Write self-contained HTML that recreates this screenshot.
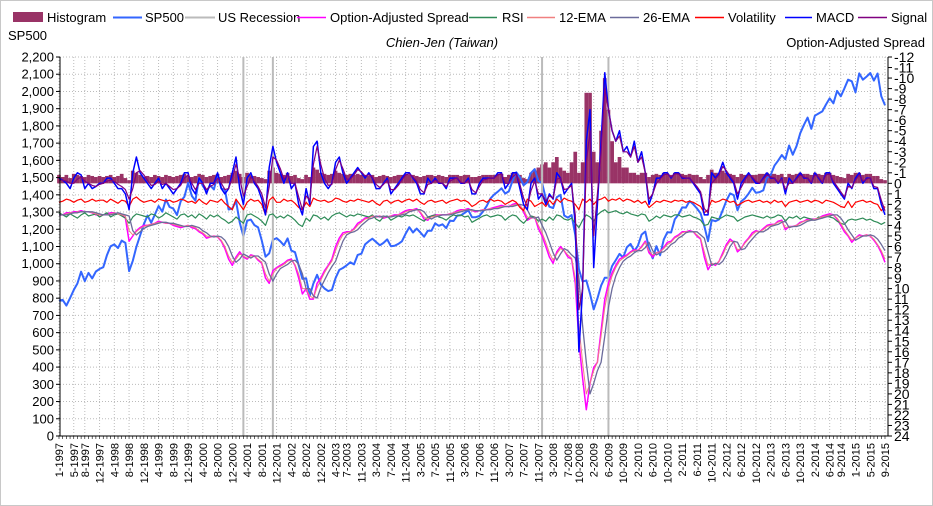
<!DOCTYPE html>
<html><head><meta charset="utf-8"><style>
body{margin:0;background:#fff;}
svg{display:block;font-family:"Liberation Sans",Arial,sans-serif;}
</style></head><body>
<svg id="c" width="933" height="506" viewBox="0 0 933 506">
<rect x="0.5" y="0.5" width="932" height="505" fill="#fff" stroke="#c8c8c8"/>
<g id="legend" font-size="13" fill="#000">
<g><rect x="13" y="12" width="30" height="10" fill="#993366"/><text x="47" y="22">Histogram</text></g>
<g><line x1="113" y1="17.5" x2="142" y2="17.5" stroke="#3366ff" stroke-width="2"/><text x="145" y="22">SP500</text></g>
<g><line x1="185" y1="17.5" x2="215" y2="17.5" stroke="#bbb" stroke-width="2"/><text x="218" y="22">US Recession</text></g>
<g><line x1="297" y1="17.5" x2="326" y2="17.5" stroke="#ff00ff" stroke-width="1.5"/><text x="330" y="22">Option-Adjusted Spread</text></g>
<g><line x1="469" y1="17.5" x2="497" y2="17.5" stroke="#2e8b57" stroke-width="1.5"/><text x="502" y="22">RSI</text></g>
<g><line x1="527" y1="17.5" x2="555" y2="17.5" stroke="#f08080" stroke-width="1.5"/><text x="559" y="22">12-EMA</text></g>
<g><line x1="610" y1="17.5" x2="639" y2="17.5" stroke="#6b6b9b" stroke-width="1.5"/><text x="643" y="22">26-EMA</text></g>
<g><line x1="695" y1="17.5" x2="724" y2="17.5" stroke="#ff0000" stroke-width="1.5"/><text x="728" y="22">Volatility</text></g>
<g><line x1="785" y1="17.5" x2="812" y2="17.5" stroke="#0000ff" stroke-width="1.5"/><text x="816" y="22">MACD</text></g>
<g><line x1="858" y1="17.5" x2="887" y2="17.5" stroke="#800080" stroke-width="1.5"/><text x="891" y="22">Signal</text></g>
</g>
<text x="8" y="40" font-size="13">SP500</text>
<text x="442" y="47" font-size="13" font-style="italic" text-anchor="middle">Chien-Jen (Taiwan)</text>
<text x="925" y="47" font-size="13" text-anchor="end">Option-Adjusted Spread</text>
<g id="grid"></g><g id="marks"></g><g id="axes"></g>
</svg>
<script>
const xLabels=["1-1997","5-1997","8-1997","12-1997","4-1998","8-1998","12-1998","4-1999","8-1999","12-1999","4-2000","8-2000","12-2000","4-2001","8-2001","12-2001","4-2002","8-2002","12-2002","4-2003","7-2003","11-2003","3-2004","7-2004","11-2004","3-2005","7-2005","11-2005","3-2006","7-2006","11-2006","3-2007","7-2007","11-2007","3-2008","7-2008","10-2008","2-2009","6-2009","10-2009","2-2010","6-2010","10-2010","2-2011","6-2011","10-2011","2-2012","6-2012","10-2012","2-2013","6-2013","10-2013","2-2014","6-2014","9-2014","1-2015","5-2015","9-2015"];
const recessions=[["3-2001","11-2001"],["12-2007","6-2009"]];
const sp500=[786,790,757,801,848,885,954,899,947,915,955,970,
980,1049,1101,1112,1091,1134,1121,957,1017,1098,1164,1229,
1280,1238,1286,1335,1302,1373,1329,1320,1283,1363,1389,1469,
1394,1366,1499,1452,1421,1455,1431,1518,1437,1429,1315,1320,
1366,1240,1160,1249,1256,1224,1211,1134,1041,1060,1139,1148,
1130,1107,1147,1076,1067,990,912,916,815,885,936,880,
856,841,848,917,964,975,990,1008,996,1051,1058,1112,
1131,1145,1126,1107,1121,1141,1102,1104,1115,1130,1174,1212,
1181,1204,1181,1157,1192,1191,1234,1220,1229,1207,1249,1248,
1280,1281,1295,1311,1270,1270,1277,1304,1336,1378,1401,1418,
1438,1407,1421,1482,1531,1503,1455,1474,1527,1549,1481,1468,
1378,1331,1323,1386,1400,1280,1267,1283,1166,969,896,903,
826,735,798,873,919,919,987,1021,1057,1036,1096,1115,
1074,1104,1169,1187,1089,1031,1102,1049,1141,1183,1181,1258,
1286,1327,1326,1364,1345,1321,1292,1219,1131,1253,1247,1258,
1312,1366,1408,1398,1310,1362,1379,1407,1441,1412,1416,1426,
1498,1515,1569,1598,1631,1606,1686,1633,1682,1757,1806,1848,
1783,1859,1872,1884,1924,1960,1931,2003,1972,2018,2068,2059,
1995,2105,2068,2086,2107,2063,2104,1972,1920];
const spread=[3,3,2.8,2.8,2.7,2.7,2.6,2.7,2.7,2.8,3,3,
3,2.9,2.8,2.8,2.9,3,3.3,5.5,5,4.5,4.2,4,
4,3.9,3.8,3.6,3.7,3.8,3.8,4,4.1,4.2,4.1,4,
4.2,4.3,4.6,4.8,5.2,5.1,5,5.1,5.5,6.2,7.2,7.8,
7,6.5,7,7.2,6.8,6.9,7.3,7.6,9,9.5,8.3,8,
7.8,7.6,7.3,7.2,7.8,9,10.5,10,11,11,9.5,9,
8.3,7.8,7.2,6,5.2,4.7,4.6,4.6,4.3,3.8,3.6,3.3,
3.2,3.1,3.2,3.1,3.3,3.2,3.1,3,3,2.8,2.6,2.5,
2.5,2.4,2.8,3.4,3.5,3.1,3,3,3,3,2.9,2.8,
2.6,2.5,2.5,2.4,2.6,2.7,2.6,2.5,2.5,2.4,2.3,2.2,
2.1,2.2,2.2,2,1.9,2.1,2.7,3.5,3.3,3.2,4.3,5,
6,7,7.6,6.5,6,6.4,7,7.2,9.5,15,18.5,21.5,
19,17.5,17,14,11,9.5,8.5,7.8,7.2,7,6.8,6.5,
6.3,6.4,6,5.5,6.6,7,6.6,6.5,6.1,5.6,5.5,5.1,
4.9,4.6,4.6,4.5,4.6,5,5.3,7,8.2,7.6,7.8,7.4,
6.6,5.8,5.3,5.6,6.5,6.2,5.6,5.2,4.7,4.5,4.6,4.3,
4,3.9,3.9,3.6,3.5,4.4,4.1,4.1,4,3.7,3.6,3.4,
3.4,3.4,3.3,3.1,3,2.9,3,3.4,4,4.6,5,5.6,
5.2,4.9,5,4.9,5,5.4,5.9,6.6,7.5];
const ema12=[3,3,2.9,2.8,2.8,2.7,2.7,2.7,2.7,2.8,2.9,3,
3,3,2.9,2.8,2.9,3,3.1,4.5,4.9,4.6,4.3,4.1,
4,3.9,3.8,3.7,3.7,3.8,3.8,3.9,4,4.1,4.1,4,
4.1,4.2,4.5,4.7,5,5.1,5,5.1,5.4,6,6.9,7.5,
7.2,6.7,6.9,7.1,6.9,6.9,7.2,7.5,8.6,9.3,8.6,8.1,
7.9,7.7,7.4,7.3,7.7,8.6,10,10,10.7,10.9,9.9,9.2,
8.5,7.9,7.4,6.4,5.5,4.9,4.7,4.6,4.4,4,3.7,3.4,
3.3,3.1,3.2,3.1,3.2,3.2,3.1,3.1,3,2.9,2.7,2.6,
2.5,2.5,2.7,3.2,3.4,3.2,3.1,3,3,3,2.9,2.8,
2.7,2.6,2.5,2.5,2.6,2.6,2.6,2.5,2.5,2.4,2.4,2.3,
2.2,2.2,2.2,2.1,2,2.1,2.5,3.2,3.3,3.2,4,4.7,
5.6,6.6,7.3,6.7,6.2,6.4,6.8,7.1,9,13.5,17,20,
19,17.8,17,14.5,11.8,10,8.8,8,7.4,7.1,6.9,6.6,
6.4,6.4,6.1,5.6,6.4,6.8,6.6,6.5,6.2,5.8,5.6,5.2,
5,4.7,4.6,4.6,4.6,4.9,5.2,6.5,7.8,7.6,7.7,7.4,
6.8,6,5.5,5.6,6.3,6.2,5.7,5.3,4.9,4.6,4.6,4.4,
4.1,4,3.9,3.7,3.6,4.2,4.1,4.1,4,3.8,3.6,3.5,
3.5,3.4,3.3,3.2,3.1,3,3,3.3,3.8,4.4,4.9,5.4,
5.2,5,5,4.9,5,5.3,5.8,6.4,7.2];
const ema26=[3,3,3,2.9,2.8,2.8,2.7,2.7,2.7,2.7,2.8,2.9,
3,3,3,2.9,2.8,2.9,3,3.1,4.5,4.9,4.6,4.3,
4.1,4,3.9,3.8,3.7,3.7,3.8,3.8,3.9,4,4.1,4.1,
4,4.1,4.2,4.5,4.7,5,5.1,5,5.1,5.4,6,6.9,
7.5,7.2,6.7,6.9,7.1,6.9,6.9,7.2,7.5,8.6,9.3,8.6,
8.1,7.9,7.7,7.4,7.3,7.7,8.6,10,10,10.7,10.9,9.9,
9.2,8.5,7.9,7.4,6.4,5.5,4.9,4.7,4.6,4.4,4,3.7,
3.4,3.3,3.1,3.2,3.1,3.2,3.2,3.1,3.1,3,2.9,2.7,
2.6,2.5,2.5,2.7,3.2,3.4,3.2,3.1,3,3,3,2.9,
2.8,2.7,2.6,2.5,2.5,2.6,2.6,2.6,2.5,2.5,2.4,2.4,
2.3,2.2,2.2,2.2,2.1,2,2.1,2.5,3.2,3.3,3.2,4,
4.7,5.6,6.6,7.3,6.7,6.2,6.4,6.8,7.1,9,13.5,17,
20,19,17.8,17,14.5,11.8,10,8.8,8,7.4,7.1,6.9,
6.6,6.4,6.4,6.1,5.6,6.4,6.8,6.6,6.5,6.2,5.8,5.6,
5.2,5,4.7,4.6,4.6,4.6,4.9,5.2,6.5,7.8,7.6,7.7,
7.4,6.8,6,5.5,5.6,6.3,6.2,5.7,5.3,4.9,4.6,4.6,
4.4,4.1,4,3.9,3.7,3.6,4.2,4.1,4.1,4,3.8,3.6,
3.5,3.5,3.4,3.3,3.2,3.1,3,3,3.3,3.8,4.4,4.9,
5.4,5.2,5,5,4.9,5,5.3,5.8,6.4];
const rsi=[2.8,3,3.2,2.9,3.1,3.3,3,2.8,3.1,3,2.9,3.2,
3,2.8,3.2,3,2.9,3.1,3.3,3.8,3.2,2.9,3,3.1,
3.2,2.9,3,3.3,3.1,2.8,3,3.2,3.4,3,2.9,3.2,
3,3.3,2.9,3.1,3.4,3,3.2,3,3.3,3.5,3.8,3.6,
3.2,3.5,3.8,3,2.9,3.1,3.3,3.6,4,3,2.9,3.3,
3.1,3.3,3,3.2,3.5,3.9,4.1,3.3,3.6,3,3.1,3.4,
3.2,3.5,3.1,2.9,2.8,3,3.2,3,3.1,2.9,3,3.1,
3.2,3,3.4,3.6,3.2,3.1,3.5,3.3,3.1,3.2,3,3.1,
3,3.2,3.4,3.6,3.2,3.1,3,3.2,3.3,3.5,3.2,3,
3.1,3,3.2,3.1,3.7,3.5,3.3,3.1,3,3.2,3.1,3,
3.1,3.5,3.2,3,3.1,3.5,3.8,3.4,3.1,3.2,3.6,3.4,
3.6,3.2,3.5,3,3.1,3.4,3.5,3.3,3.8,4.2,3.5,3,
3.2,3.6,3,2.7,2.5,2.8,2.7,2.6,2.8,2.9,2.7,2.9,
3,3.1,2.9,3,3.6,3.4,3.1,3.3,3,3.1,3.2,3,
3,3.2,3.1,3,3.2,3.3,3.5,4,3.9,3.2,3.3,3.4,
3.2,3,3.1,3.2,3.6,3.4,3.2,3.1,3,3.1,3.2,3.3,
3.1,3.3,3.2,3,3.1,3.6,3.2,3.3,3.1,3.4,3.2,3.3,
3.4,3.5,3.2,3.3,3.1,3.2,3.3,3.6,3.8,3.9,3.5,3.4,
3.5,3.4,3.3,3.5,3.4,3.6,3.7,3.9,3.7];
const volatility=[1.8,1.7,1.5,1.6,1.8,1.6,1.5,1.8,1.7,1.5,1.7,1.6,
1.6,1.8,1.5,1.7,1.9,1.6,1.7,2.2,1.5,1.3,1.6,1.8,
1.7,1.6,1.8,1.5,1.6,1.7,1.6,1.8,1.7,1.5,1.6,1.8,
1.7,1.9,1.5,1.8,2,1.6,1.7,1.8,1.5,1.9,2.2,2.5,
1.5,2,2.5,1.8,1.5,1.7,1.6,2,3,1.6,1.3,1.8,
1.8,1.5,1.7,1.6,1.9,2.3,2.5,1.8,2.2,1.4,1.6,1.7,
1.6,1.8,1.7,1.4,1.5,1.7,1.8,1.6,1.7,1.5,1.6,1.7,
1.8,1.6,1.9,2.1,1.7,1.6,1.9,1.7,1.6,1.8,1.6,1.5,
1.7,1.5,1.8,2,1.7,1.6,1.8,1.7,1.6,1.9,1.7,1.6,
1.5,1.7,1.6,1.8,2.2,2,1.7,1.6,1.8,1.5,1.7,1.6,
1.7,2,1.8,1.6,1.8,2.3,2.6,1.5,1.7,2.2,2,1.8,
2.2,1.6,2,1.5,1.8,1.4,1.6,1.7,2,2.5,1.5,1.8,
1.5,2,1.6,1.5,1.3,1.7,1.5,1.6,1.4,1.7,1.5,1.6,
1.8,1.6,1.9,1.7,2.3,2,1.7,1.8,1.6,1.7,1.8,1.6,
1.7,1.6,1.8,1.7,1.8,2,2.2,2.8,2.5,1.6,1.8,1.7,
1.5,1.6,1.8,1.7,2.1,1.9,1.7,1.6,1.8,1.7,1.6,1.8,
1.7,1.9,1.6,1.8,1.7,2.2,1.8,1.7,1.6,1.8,1.7,1.6,
1.8,1.6,1.7,1.9,1.6,1.7,1.8,2,2.2,2.3,1.7,2.3,
1.8,1.7,1.6,1.8,1.7,1.9,2,2.6,2.2];
const macd=[-0.5,-0.3,0,0.5,-0.5,-1,-0.8,0.5,0,0.5,0.3,0,
0,-0.5,-0.5,0,0.5,0.5,1,2.5,-1,-2.5,-1,-0.5,
0,0.5,0,-0.5,0.5,0,0.5,1,0.5,0,-1,-1,
0.5,1,-0.5,0,1,0,0,-1,0.5,1,0.5,-1,
-2.5,0.5,2,-0.5,-1,0,0.5,1.5,3,-1.5,-3.5,-2,
-1,0,-1,0.5,0,2,3,0.5,2,-3.5,-4,-1,
0,0.5,0,-2,-2.5,-1,0,-0.5,-1,-1.5,-1,-0.5,
-1,-0.5,0.5,0.5,0,-0.5,1,0.5,0,-0.5,-1,-1,
-0.5,0,1,1,-0.5,0,-0.5,0,0,0.5,-0.5,-0.5,
-0.5,0,0,-0.5,1,1,0,-0.5,-0.5,-0.5,-0.5,-1,
-1,0.5,0,-1,-1,0.5,2,2.5,0,-0.5,1.5,1,
2,1,1.5,-1,-0.5,1,0.5,0,4,16,10,-4,
-7,8,2,-4,-10.5,-7,-5,-4,-5,-3,-3.5,-2.5,
-4,-2,-3,-1,2,1,-0.5,-0.5,-1,-1,-0.5,-1,
-1,-0.5,-0.5,-0.5,0,0.5,1,3,3,-1,-0.5,-1,
-2,-1,-0.5,0,1.5,0,-0.5,-1,-0.5,0,0,-0.5,
-1,-0.5,-0.5,0,-0.5,1,-0.5,0,-0.5,-1,-0.5,-0.5,
0,-1,-0.5,0,-1,-1,0,0.5,1,1.5,0,0.5,
-0.5,-1,0,-0.5,-0.5,0.5,0.5,2,3];
const signal=[-0.3,-0.3,-0.2,0,0,-0.4,-0.6,-0.2,0,0.2,0.3,0.1,
0,-0.2,-0.3,-0.2,0.1,0.3,0.6,1.5,0.5,-1,-1.2,-0.8,
-0.3,0.2,0.1,-0.2,0.1,0,0.3,0.6,0.5,0.2,-0.5,-0.8,
0,0.6,0,0,0.6,0.3,0.1,-0.5,0,0.6,0.5,-0.5,
-1.8,-0.5,1.2,0.3,-0.6,-0.2,0.3,1,2.3,0.3,-2.5,-2.2,
-1.4,-0.4,-0.8,0,0,1.3,2.5,1.2,1.6,-1.8,-3.5,-1.8,
-0.5,0.2,0.1,-1.3,-2.2,-1.4,-0.4,-0.4,-0.8,-1.3,-1.1,-0.7,
-0.8,-0.6,0.1,0.4,0.1,-0.3,0.6,0.6,0.2,-0.3,-0.8,-0.9,
-0.6,-0.2,0.6,0.9,0.1,0,-0.3,-0.1,0,0.3,-0.2,-0.4,
-0.5,-0.1,0,-0.3,0.6,0.9,0.3,-0.3,-0.4,-0.5,-0.5,-0.8,
-0.9,0,0,-0.6,-0.9,0.1,1.4,2.2,0.7,-0.2,1,1,
1.7,1.2,1.4,-0.4,-0.5,0.6,0.5,0.2,3,12,10,-2,
-5,5,1,-3,-9,-7,-5,-4,-4.5,-3,-3,-2.5,
-3.5,-2,-2.5,-1,1.5,1,0,-0.4,-0.8,-0.9,-0.6,-0.9,
-0.9,-0.6,-0.5,-0.5,-0.1,0.3,0.8,2.4,2.8,0,-0.4,-0.8,
-1.6,-1.2,-0.7,-0.2,1,0.4,-0.3,-0.8,-0.6,-0.2,0,-0.4,
-0.8,-0.6,-0.5,-0.1,-0.4,0.6,0,0,-0.4,-0.8,-0.6,-0.5,
-0.1,-0.8,-0.6,-0.1,-0.8,-0.9,-0.2,0.3,0.8,1.3,0.3,0.4,
-0.3,-0.8,-0.2,-0.4,-0.5,0.3,0.4,1.6,2.6];
const histogram=[-0.8,-0.6,-0.8,-0.5,-0.9,-0.8,-0.7,-0.6,-0.8,-0.7,-0.6,-0.7,
-0.6,-0.7,-0.8,-0.6,-0.7,-0.9,-0.5,-0.3,-1.2,-1,-0.8,-0.6,
-0.7,-0.6,-0.8,-0.7,-0.6,-0.8,-0.7,-0.6,-0.7,-0.8,-0.9,-0.7,
-0.6,-0.7,-0.9,-0.8,-0.6,-0.7,-0.8,-0.9,-0.6,-0.7,-0.8,-1,
-1.2,-0.9,-0.6,-1,-0.8,-0.7,-0.6,-0.5,-0.4,-1.2,-1.5,-1,
-0.9,-0.8,-1,-0.7,-0.8,-0.5,-0.4,-0.8,-0.6,-1.5,-1.3,-1,
-0.9,-0.8,-0.9,-1.2,-1,-0.9,-0.8,-0.9,-0.8,-0.9,-0.8,-0.8,
-0.7,-0.8,-0.6,-0.7,-0.8,-0.7,-0.6,-0.7,-0.8,-0.8,-0.9,-0.8,
-0.8,-0.7,-0.6,-0.7,-0.8,-0.8,-0.7,-0.8,-0.7,-0.6,-0.8,-0.8,
-0.8,-0.7,-0.8,-0.8,-0.6,-0.6,-0.7,-0.8,-0.8,-0.8,-0.8,-0.9,
-0.9,-0.6,-0.8,-1,-1,-0.8,-0.5,-0.4,-1,-1.2,-1.5,-1.8,
-2,-1.5,-2,-2.5,-1.5,-1.2,-1,-2,-3,-1,-2,-8.6,
-8.6,-3,-2,-5,-10,-7,-4,-2,-2.5,-1.5,-1.5,-1,
-1,-0.8,-1,-1,-0.6,-0.8,-0.9,-0.8,-1,-0.9,-0.8,-1,
-1,-0.9,-0.8,-0.9,-0.8,-0.8,-0.6,-0.4,-0.8,-1.3,-1,-1,
-1.2,-1,-0.9,-0.8,-0.6,-0.9,-0.8,-0.9,-0.8,-0.8,-0.9,-0.9,
-1,-0.9,-0.9,-0.8,-0.9,-0.6,-0.9,-0.8,-0.9,-1,-0.9,-0.9,
-0.8,-1,-0.9,-0.8,-1,-1,-0.8,-0.7,-0.6,-0.5,-0.9,-0.8,
-1,-1,-0.8,-0.9,-0.9,-0.7,-0.7,-0.4,-0.3];
const leftTicks=[0,100,200,300,400,500,600,700,800,900,1000,1100,1200,1300,1400,1500,1600,1700,1800,1900,2000,2100,2200];
const rightTicks=[-12,-11,-10,-9,-8,-7,-6,-5,-4,-3,-2,-1,0,1,2,3,4,5,6,7,8,9,10,11,12,13,14,15,16,17,18,19,20,21,22,23,24];

const NS="http://www.w3.org/2000/svg";
const X0=59,X1=885,Y0=57,Y1=436,PL=60,PR=888;
function mIdx(s){const p=s.split('-');return (+p[1]-1997)*12+(+p[0]-1);}
function xS(m){return X0+m*(X1-X0)/224;}
function yL(v){return Y1-v*(Y1-Y0)/2200;}
function yR(r){return Y0+(r+12)*(Y1-Y0)/36;}
function mk(tag,attrs,parent){const e=document.createElementNS(NS,tag);for(const k in attrs)e.setAttribute(k,attrs[k]);parent.appendChild(e);return e;}
const grid=document.getElementById('grid'),marks=document.getElementById('marks'),axes=document.getElementById('axes');

leftTicks.forEach(v=>{if(v===0)return;const l=mk('line',{x1:PL,x2:PR,y1:yL(v),y2:yL(v),stroke:'#bbb','stroke-dasharray':'1,2'},grid);

});
xLabels.forEach(s=>{const x=xS(mIdx(s));const l=mk('line',{x1:x,x2:x,y1:Y0,y2:Y1,stroke:'#bbb','stroke-dasharray':'1,2'},grid);

});

histogram.forEach((h,i)=>{const y=yR(h),b=yR(0);const r=mk('rect',{x:xS(i)-1.85,width:3.7,y:Math.min(y,b),height:Math.abs(b-y),fill:'#993366'},marks);

});
function line(arr,yf,color,w,name){const d=arr.map((v,i)=>(i?'L':'M')+xS(i).toFixed(1)+','+yf(v).toFixed(1)).join('');const p=mk('path',{d:d,fill:'none',stroke:color,'stroke-width':w,'stroke-linejoin':'round'},marks);

}
line(sp500,yL,'#3366ff',2,'sp500-line');
recessions.forEach(r=>r.forEach(s=>{const x=xS(mIdx(s));const l=mk('line',{x1:x,x2:x,y1:Y0,y2:Y1,stroke:'#bbb','stroke-width':2},marks);

}));
line(spread,yR,'#ff00ff',1.5,'option-adjusted-spread-line');
line(rsi,yR,'#2e8b57',1.2,'rsi-line');
line(ema12,yR,'#f08080',1,'ema12-line');
line(ema26,yR,'#6b6b9b',1.3,'ema26-line');
line(volatility,yR,'#ff0000',1.2,'volatility-line');
line(macd,yR,'#0000ff',1.5,'macd-line');
line(signal,yR,'#800080',1.2,'signal-line');

let a=mk('line',{x1:PL,x2:PL,y1:Y0,y2:Y1,stroke:'#000'},axes);


a=mk('line',{x1:PR,x2:PR,y1:Y0,y2:Y1,stroke:'#000'},axes);


a=mk('line',{x1:PL,x2:PR,y1:Y1,y2:Y1,stroke:'#000'},axes);


leftTicks.forEach(v=>{const y=yL(v);mk('line',{x1:PL-4,x2:PL,y1:y,y2:y,stroke:'#000'},axes);
const t=mk('text',{x:PL-6,y:y+4.5,'font-size':13,'text-anchor':'end'},axes);t.textContent=v.toLocaleString('en-US');

});
rightTicks.forEach(v=>{const y=yR(v);mk('line',{x1:PR,x2:PR+4,y1:y,y2:y,stroke:'#000'},axes);
const t=mk('text',{x:PR+6,y:y+5,'font-size':14},axes);t.textContent=v<0?'-'+(-v):String(v);

});
for(let m=0;m<=224;m++){const x=xS(m);mk('line',{x1:x,x2:x,y1:Y1,y2:Y1+3,stroke:'#000','stroke-width':0.6},axes);}
xLabels.forEach(s=>{const x=xS(mIdx(s));const t=mk('text',{x:0,y:0,'font-size':11,'text-anchor':'end',transform:'translate('+(x+4)+',443) rotate(-90)'},axes);t.textContent=s;

});
</script>
</body></html>
